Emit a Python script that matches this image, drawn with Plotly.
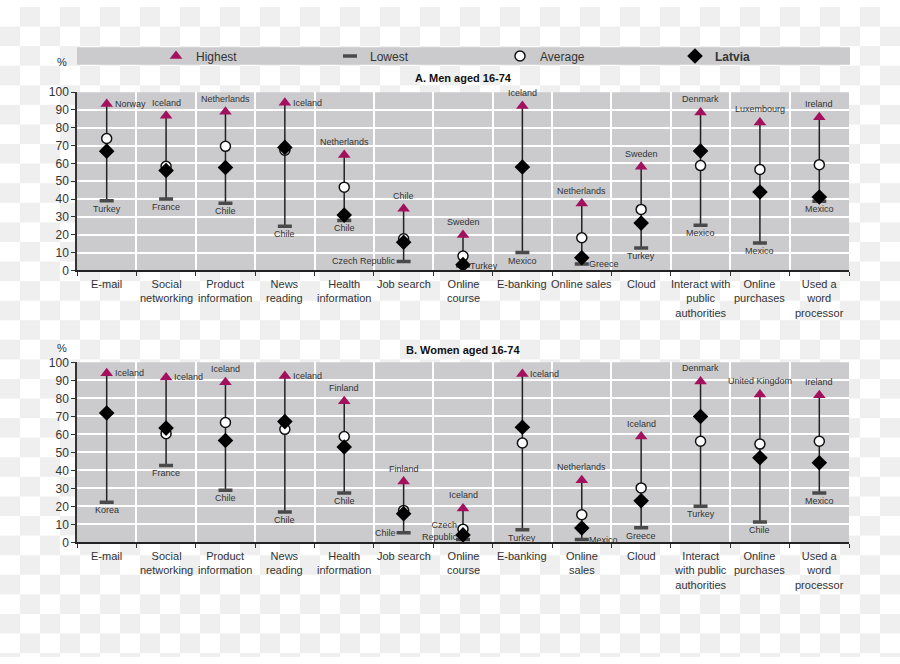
import base64
import plotly.graph_objects as go

# ---------------- data ----------------
labels_men = ["E-mail", "Social<br>networking", "Product<br>information", "News<br>reading",
              "Health<br>information", "Job search", "Online<br>course", "E-banking",
              "Online sales", "Cloud", "Interact with<br>public<br>authorities",
              "Online<br>purchases", "Used a<br>word<br>processor"]
labels_women = ["E-mail", "Social<br>networking", "Product<br>information", "News<br>reading",
                "Health<br>information", "Job search", "Online<br>course", "E-banking",
                "Online<br>sales", "Cloud", "Interact<br>with public<br>authorities",
                "Online<br>purchases", "Used a<br>word<br>processor"]

men_high = [93.4, 86.8, 89.0, 94.0, 64.8, 34.6, 19.8, 92.3, 37.5, 58.2, 88.6, 83.0, 85.9]
men_low = [39.0, 40.0, 37.7, 24.7, 28.0, 5.0, 2.5, 10.0, 3.5, 12.6, 25.3, 15.4, 38.8]
men_avg = [74.0, 58.4, 69.6, 67.4, 46.7, 17.7, 8.0, None, 18.3, 34.2, 58.8, 56.6, 59.3]
men_lva = [66.9, 56.0, 57.7, 69.0, 31.0, 15.8, 3.2, 58.0, 7.1, 26.5, 67.0, 44.0, 41.2]
men_high_cty = ["Norway", "Iceland", "Netherlands", "Iceland", "Netherlands", "Chile", "Sweden",
                "Iceland", "Netherlands", "Sweden", "Denmark", "Luxembourg", "Ireland"]
men_low_cty = ["Turkey", "France", "Chile", "Chile", "Chile", "Czech Republic", "Turkey",
               "Mexico", "Greece", "Turkey", "Mexico", "Mexico", "Mexico"]

women_high = [94.0, 91.6, 89.0, 92.4, 78.4, 33.8, 18.9, 93.5, 34.5, 58.8, 89.4, 82.2, 81.8]
women_low = [22.3, 42.8, 29.0, 16.9, 27.4, 5.4, 1.6, 7.0, 1.6, 8.2, 20.1, 11.4, 27.4]
women_avg = [None, 60.4, 66.6, 62.8, 58.8, 17.8, 7.4, 55.2, 15.4, 30.3, 56.2, 54.6, 56.2]
women_lva = [71.9, 63.5, 56.6, 67.1, 53.0, 16.0, 4.2, 64.0, 8.0, 23.2, 69.9, 47.0, 44.3]
women_high_cty = ["Iceland", "Iceland", "Iceland", "Iceland", "Finland", "Finland", "Iceland",
                  "Iceland", "Netherlands", "Iceland", "Denmark", "United Kingdom", "Ireland"]
women_low_cty = ["Korea", "France", "Chile", "Chile", "Chile", "Chile", "Czech<br>Republic",
                 "Turkey", "Mexico", "Greece", "Turkey", "Chile", "Mexico"]

series_names = ["Highest", "Lowest", "Average", "<b>Latvia</b>"]

# label placement codes (style, kept separate from data)
men_high_pos = ["r", "t", "t", "r", "t", "t", "t", "t", "t", "t", "t", "t", "t"]
men_low_pos = ["b", "b", "b", "b", "b", "l", "r", "b", "r", "b", "b", "b", "b"]
women_high_pos = ["r", "r", "t", "r", "t", "t", "t", "r", "t", "t", "t", "t", "t"]
women_low_pos = ["b", "b", "b", "b", "b", "l", "l2", "b", "r", "b", "b", "b", "b"]

# ---------------- layout helpers ----------------
W, H = 900, 664
FONT = "Liberation Sans, Arial, sans-serif"
HIGH_COLOR = "#a3105e"
PANEL_BG = "#cbcbcd"
X_L, X_R = 77, 849
PANELS = [(87, 269), (363, 547)]
LEGEND_X = [156, 330, 500, 675]


def xp(p):
    return p / W


def yp(p):
    return 1 - p / H


checker = (
    '<svg xmlns="http://www.w3.org/2000/svg" width="900" height="664">'
    '<defs><pattern id="c" width="40" height="40" patternUnits="userSpaceOnUse">'
    '<rect width="40" height="40" fill="#ffffff"/>'
    '<rect x="20" y="0" width="20" height="20" fill="#efefef"/>'
    '<rect x="0" y="20" width="20" height="20" fill="#efefef"/>'
    '</pattern></defs><rect width="900" height="664" fill="url(#c)"/></svg>'
)
checker_uri = "data:image/svg+xml;base64," + base64.b64encode(checker.encode()).decode()

fig = go.Figure()

n = len(labels_men)
xs = list(range(n))

datasets = [
    (men_high, men_low, men_avg, men_lva, men_high_cty, men_low_cty, men_high_pos, men_low_pos, labels_men),
    (women_high, women_low, women_avg, women_lva, women_high_cty, women_low_cty, women_high_pos, women_low_pos, labels_women),
]

annotations = []
shapes = []

for k, (hi, lo, av, lv, hc, lc, hp, lp, labs) in enumerate(datasets):
    xa = "x" if k == 0 else "x2"
    ya = "y" if k == 0 else "y2"
    lx, ly = [], []
    for i in xs:
        lx += [i, i, None]
        ly += [lo[i], hi[i], None]
    fig.add_trace(go.Scatter(x=lx, y=ly, mode="lines", line=dict(color="#222222", width=1.5),
                             xaxis=xa, yaxis=ya, showlegend=False, hoverinfo="skip"))

legend_ids = ["legend", "legend2", "legend3", "legend4"]
for k, (hi, lo, av, lv, hc, lc, hp, lp, labs) in enumerate(datasets):
    xa = "x" if k == 0 else "x2"
    ya = "y" if k == 0 else "y2"
    show = k == 0
    markers = [
        dict(symbol="triangle-up", size=11, color=HIGH_COLOR),
        dict(symbol="line-ew", size=10, line=dict(color="#4a4a4a", width=3.5)),
        dict(symbol="circle", size=10, color="white", line=dict(color="#111111", width=1.5)),
        dict(symbol="diamond", size=12, color="black"),
    ]
    for s, (vals, mk) in enumerate(zip([hi, lo, av, lv], markers)):
        fig.add_trace(go.Scatter(x=xs, y=vals, mode="markers", name=series_names[s],
                                 legendgroup=str(s), legend=legend_ids[s], marker=mk,
                                 xaxis=xa, yaxis=ya, showlegend=show))

    lab_font = dict(family=FONT, size=9, color="#333333")
    for i in xs:
        pos = hp[i]
        if pos == "t":
            annotations.append(dict(x=i, y=hi[i], xref=xa, yref=ya, text=hc[i], showarrow=False,
                                    xanchor="center", yanchor="bottom", yshift=6, font=lab_font))
        else:
            annotations.append(dict(x=i, y=hi[i], xref=xa, yref=ya, text=hc[i], showarrow=False,
                                    xanchor="left", yanchor="middle", xshift=6, font=lab_font))
        pos = lp[i]
        if pos == "b":
            annotations.append(dict(x=i, y=lo[i], xref=xa, yref=ya, text=lc[i], showarrow=False,
                                    xanchor="center", yanchor="top", yshift=-1, font=lab_font))
        elif pos == "l":
            annotations.append(dict(x=i, y=lo[i], xref=xa, yref=ya, text=lc[i], showarrow=False,
                                    xanchor="right", yanchor="middle", xshift=-6, font=lab_font))
        elif pos == "l2":
            annotations.append(dict(x=i, y=lo[i], xref=xa, yref=ya, text=lc[i], showarrow=False,
                                    xanchor="right", yanchor="bottom", xshift=-3, yshift=-4,
                                    align="right", font=lab_font))
        else:
            annotations.append(dict(x=i, y=lo[i], xref=xa, yref=ya, text=lc[i], showarrow=False,
                                    xanchor="left", yanchor="middle", xshift=5, font=lab_font))
        annotations.append(dict(x=i, y=yp(PANELS[k][1] + 6), xref=xa, yref="paper", text=labs[i],
                                showarrow=False, xanchor="center", yanchor="top",
                                font=dict(family=FONT, size=11, color="#333333")))

    shapes.append(dict(type="rect", xref="paper", yref="paper", x0=xp(X_L), x1=xp(X_R),
                       y0=yp(PANELS[k][1]), y1=yp(PANELS[k][0]), fillcolor=PANEL_BG,
                       line=dict(width=0), layer="below"))

shapes.append(dict(type="rect", xref="paper", yref="paper", x0=xp(77), x1=xp(850),
                   y0=yp(59), y1=yp(41), fillcolor=PANEL_BG, line=dict(width=0), layer="below"))

annotations.append(dict(x=xp(463), y=yp(73), xref="paper", yref="paper", text="<b>A. Men aged 16-74</b>",
                        showarrow=False, xanchor="center", yanchor="middle",
                        font=dict(family=FONT, size=11, color="#111111")))
annotations.append(dict(x=xp(463), y=yp(350), xref="paper", yref="paper", text="<b>B. Women aged 16-74</b>",
                        showarrow=False, xanchor="center", yanchor="middle",
                        font=dict(family=FONT, size=11, color="#111111")))
for py in (56, 348):
    annotations.append(dict(x=xp(62), y=yp(py), xref="paper", yref="paper", text="%",
                            showarrow=False, xanchor="center", yanchor="middle",
                            font=dict(family=FONT, size=11, color="#333333")))

xaxis_common = dict(range=[-0.5, n - 0.5], tickvals=[i - 0.5 for i in range(n + 1)],
                    ticktext=[""] * (n + 1), showgrid=True, gridcolor="white", gridwidth=1.5,
                    ticks="outside", ticklen=4, tickcolor="#333333", showline=True,
                    linecolor="#222222", linewidth=2, zeroline=False, fixedrange=True,
                    domain=[xp(X_L), xp(X_R)])
yaxis_common = dict(range=[0, 100], tickvals=list(range(0, 101, 10)), showgrid=True,
                    gridcolor="white", gridwidth=1.5, ticks="outside", ticklen=4,
                    tickcolor="#333333", showline=True, linecolor="#333333", linewidth=1.5,
                    zeroline=False, tickfont=dict(family=FONT, size=12, color="#333333"),
                    fixedrange=True)

legend_layouts = {}
for s, lid in enumerate(legend_ids):
    legend_layouts[lid] = dict(orientation="h", x=xp(LEGEND_X[s]), xanchor="left", y=yp(50),
                               yanchor="middle", bgcolor="rgba(0,0,0,0)", borderwidth=0,
                               font=dict(family=FONT, size=12, color="#333333"),
                               itemclick=False, itemdoubleclick=False)

fig.update_layout(
    width=W, height=H, margin=dict(l=0, r=0, t=0, b=0),
    paper_bgcolor="white", plot_bgcolor="rgba(0,0,0,0)",
    font=dict(family=FONT, size=12, color="#333333"),
    xaxis=dict(**xaxis_common, anchor="y"),
    xaxis2=dict(**xaxis_common, anchor="y2"),
    yaxis=dict(**yaxis_common, anchor="x", domain=[yp(PANELS[0][1]), yp(PANELS[0][0])]),
    yaxis2=dict(**yaxis_common, anchor="x2", domain=[yp(PANELS[1][1]), yp(PANELS[1][0])]),
    shapes=shapes,
    annotations=annotations,
    images=[dict(source=checker_uri, xref="paper", yref="paper", x=0, y=1, sizex=1, sizey=1,
                 xanchor="left", yanchor="top", sizing="stretch", layer="below")],
    hovermode=False,
    **legend_layouts,
)

fig.write_html("out.html")
